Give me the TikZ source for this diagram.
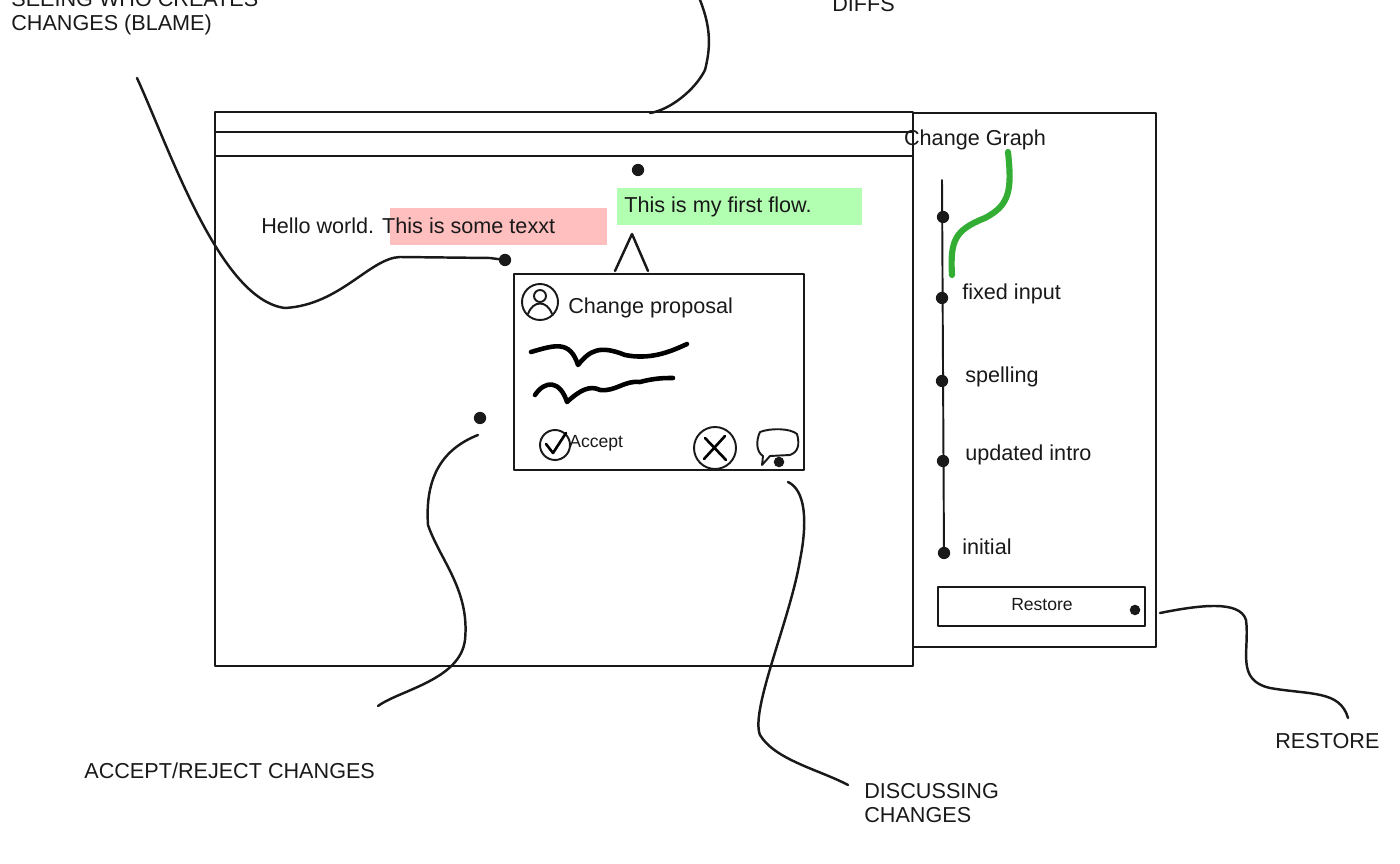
\documentclass[tikz,border=0pt]{standalone}
\usepackage{fontspec}
\setmainfont{Liberation Sans}
\begin{document}
\begin{tikzpicture}[x=0.02cm,y=-0.02cm,line cap=round,line join=round,
  ln/.style={line width=1.4pt,black!90},
  thin/.style={line width=1.1pt,black!90},
  txt/.style={font=\fontsize{12.3}{14}\selectfont,text=black!90,inner sep=0pt},
  sm/.style={font=\fontsize{10}{11}\selectfont,text=black!90,inner sep=0pt},
  dot/.style={circle,fill=black!90,inner sep=0pt,minimum size=7pt}]
\useasboundingbox (0,0) rectangle (1400,864);
% main window
\draw[ln] (215,112) rectangle (913,666);
\draw[ln] (215,132) -- (913,132);
\draw[ln] (215,156) -- (913,156);
% right panel
\draw[ln] (913,113) rectangle (1156,647);
\node[txt] (cg) at (975,140) {Change Graph};
\draw[line width=3.5pt,green!60!black!80] (1008,152) .. controls (1012,190) and (1010,205) .. (985,218) .. controls (955,230) and (950,240) .. (952,275);
\draw[thin] (942,180) -- (944,555);
\node[dot] (d1) at (943,217) {};
\node[dot] (d2) at (942,298) {};
\node[dot] (d3) at (942,381) {};
\node[dot] (d4) at (943,461) {};
\node[dot] (d5) at (944,553) {};
\node[txt,anchor=west] at (962,294) {fixed input};
\node[txt,anchor=west] at (965,377) {spelling};
\node[txt,anchor=west] at (965,455) {updated intro};
\node[txt,anchor=west] at (962,547) {initial};
\draw[ln] (938,587) rectangle (1145,626);
\node[sm] at (1042,605) {Restore};
\node[dot,minimum size=6pt] (rd) at (1135,610) {};
% text highlights
\fill[red!25] (390,208) rectangle (607,245);
\fill[green!30] (617,188) rectangle (862,225);
\node[txt,anchor=west] at (261,226) {Hello world. This is some texxt};
\node[txt,anchor=west] at (624,207) {This is my first flow.};
\node[dot] (d0) at (638,170) {};
% popup
\draw[ln] (514,274) rectangle (804,470);
\draw[ln] (615,271) -- (632,234) -- (648,271);
\draw[thin] (540,302) circle (18);
\draw[thin] (540,296) circle (6);
\draw[thin] (528,314) .. controls (533,300) and (547,300) .. (552,314);
\node[txt,anchor=west] at (568,308) {Change proposal};
\draw[line width=2.6pt] (531,352) .. controls (555,345) and (570,340) .. (578,365) .. controls (590,350) and (600,345) .. (625,355) .. controls (650,360) and (670,352) .. (687,344);
\draw[line width=2.6pt] (535,395) .. controls (545,380) and (560,380) .. (567,402) .. controls (580,390) and (590,385) .. (600,390) .. controls (615,392) and (625,380) .. (640,382) .. controls (655,378) and (665,378) .. (673,378);
\draw[thin] (555,445) circle (15);
\draw[line width=1.5pt] (546,444) -- (553,453) -- (566,433);
\node[sm,anchor=west] at (569,443) {Accept};
\draw[thin] (715,448) circle (21);
\draw[line width=1.5pt] (705,438) -- (726,460) (725,436) -- (704,459);
\draw[thin] (760,432) .. controls (770,428) and (790,428) .. (797,434) .. controls (800,445) and (798,452) .. (790,455) -- (770,456) -- (762,465) -- (763,456) .. controls (756,452) and (756,440) .. (760,432);
\node[dot,minimum size=6pt] at (779,462) {};
% annotations
\node[txt,anchor=west,align=left] (blame) at (11,13) {SEEING WHO CREATES\\CHANGES (BLAME)};
\node[dot] (bd) at (505,260) {};
\draw[ln] (137,78) .. controls (170,150) and (220,300) .. (285,308) .. controls (340,305) and (370,258) .. (400,257) -- (490,258) -- (bd);
\draw[ln] (700,0) .. controls (712,30) and (710,50) .. (705,70) .. controls (695,90) and (670,110) .. (650,113);
\node[txt,anchor=west] (diffs) at (832,4) {DIFFS};
\node[dot] (ad) at (480,418) {};
\draw[ln] (478,435) .. controls (440,450) and (425,480) .. (428,525) .. controls (440,560) and (470,590) .. (465,640) .. controls (460,680) and (400,690) .. (378,706);
\node[txt,anchor=west] (acc) at (84,771) {ACCEPT/REJECT CHANGES};
\draw[ln] (788,482) .. controls (805,490) and (808,520) .. (800,560) .. controls (790,620) and (750,710) .. (760,735) .. controls (775,760) and (820,770) .. (848,785);
\node[txt,anchor=west,align=left] (disc) at (864,803) {DISCUSSING\\CHANGES};
\draw[ln] (1160,613) .. controls (1200,605) and (1240,600) .. (1246,620) .. controls (1250,650) and (1235,680) .. (1270,688) .. controls (1310,695) and (1340,690) .. (1348,718);
\node[txt,anchor=west] (rest) at (1275,741) {RESTORE};
\end{tikzpicture}
\end{document}
